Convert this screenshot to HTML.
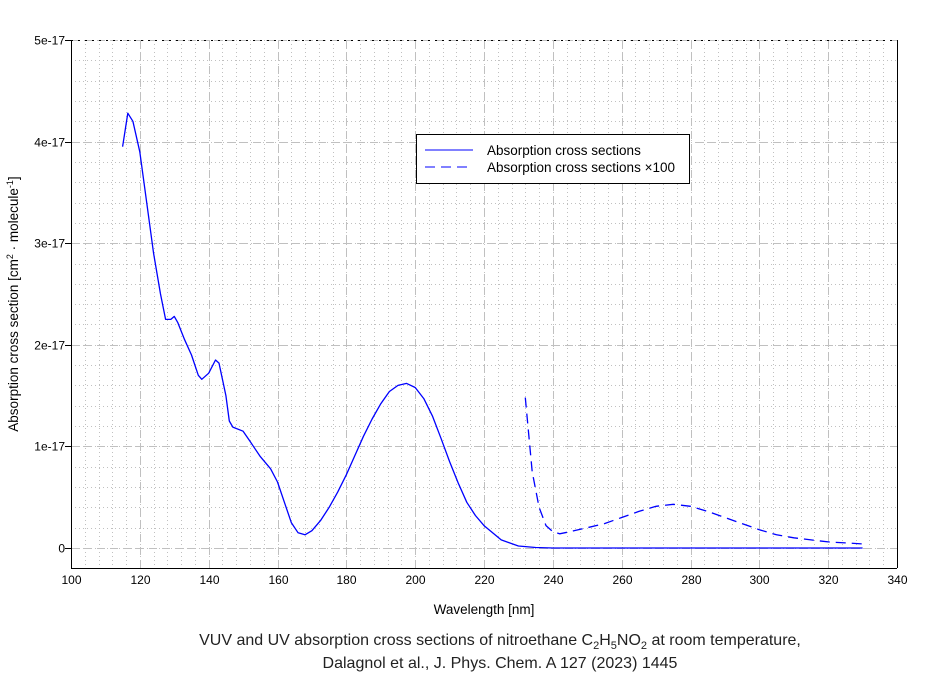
<!DOCTYPE html>
<html><head><meta charset="utf-8"><style>
body{margin:0;background:#fff;width:937px;height:676px;overflow:hidden;font-family:"Liberation Sans",Arial,sans-serif}
svg text{font-family:"Liberation Sans",Arial,sans-serif}
</style></head><body>
<svg id="chart" width="937" height="676" xmlns="http://www.w3.org/2000/svg">
<g id="grid"></g>
<g id="axes"></g>
<g id="series"></g>
<g>
<rect x="416.5" y="134.5" width="273" height="49" fill="#fff" stroke="#000"/>
<line x1="425" y1="150" x2="473" y2="150" stroke="#0000ff" stroke-width="1"/>
<text x="487" y="155" font-size="13.5">Absorption cross sections</text>
<line x1="425" y1="167" x2="473" y2="167" stroke="#0000ff" stroke-width="1" stroke-dasharray="10,6"/>
<text x="487" y="172" font-size="13.5">Absorption cross sections ×100</text>
</g>
<text x="484" y="614" font-size="13.5" text-anchor="middle">Wavelength [nm]</text>
<text transform="translate(18,304) rotate(-90)" font-size="13.5" text-anchor="middle">Absorption cross section [cm<tspan font-size="9" dy="-5">2</tspan><tspan dy="5"> · molecule</tspan><tspan font-size="9" dy="-5">-1</tspan><tspan dy="5">]</tspan></text>
<text x="500" y="645" font-size="16" text-anchor="middle" fill="#222">VUV and UV absorption cross sections of nitroethane C<tspan font-size="11" dy="4">2</tspan><tspan dy="-4">H</tspan><tspan font-size="11" dy="4">5</tspan><tspan dy="-4">NO</tspan><tspan font-size="11" dy="4">2</tspan><tspan dy="-4"> at room temperature,</tspan></text>
<text x="500" y="668" font-size="16" text-anchor="middle" fill="#222">Dalagnol et al., J. Phys. Chem. A 127 (2023) 1445</text>
</svg>
<script>
const wl = [115,116.5,118,120,122,124,126,127.5,129,130,131,133,135,137,138,140,142,143,145,146,147,150,152,155,158,160,162,164,166,168,170,172.5,175,177.5,180,182.5,185,187.5,190,192.5,195,197.5,200,202.5,205,207.5,210,212.5,215,217.5,220,225,230,235,240,260,280,300,320,330];
const xs = [3.95,4.28,4.2,3.9,3.4,2.9,2.5,2.25,2.25,2.28,2.22,2.05,1.9,1.7,1.66,1.72,1.85,1.82,1.5,1.25,1.19,1.15,1.05,0.9,0.78,0.65,0.45,0.25,0.15,0.13,0.17,0.27,0.4,0.55,0.72,0.91,1.1,1.27,1.42,1.54,1.6,1.62,1.58,1.47,1.3,1.08,0.85,0.64,0.45,0.32,0.22,0.08,0.02,0.005,0,0,0,0,0,0];
const wl100 = [232,234,236,238,240,242,245,250,255,260,265,270,275,280,285,290,295,300,305,310,315,320,325,330];
const xs100 = [1.48,0.75,0.4,0.22,0.16,0.14,0.16,0.2,0.24,0.3,0.36,0.41,0.43,0.41,0.36,0.3,0.24,0.18,0.13,0.1,0.08,0.06,0.05,0.04];
const xTicks = [100,120,140,160,180,200,220,240,260,280,300,320,340];
const yTicks = [0,1,2,3,4,5];
const yLabels = ["0","1e-17","2e-17","3e-17","4e-17","5e-17"];

const X0=71,X1=897,Y0=548,Yt=40,YB=568;
const xS = v => X0 + (v-100)/240*(X1-X0);
const yS = v => Y0 - v/5*(Y0-Yt);
const NS="http://www.w3.org/2000/svg";
function mk(tag,attrs,parent){const e=document.createElementNS(NS,tag);for(const k in attrs)e.setAttribute(k,attrs[k]);parent.appendChild(e);return e;}
const grid=document.getElementById('grid'),axes=document.getElementById('axes'),ser=document.getElementById('series');
for(let v=100;v<=340;v+=4){const x=Math.round(xS(v))+0.5;const l=mk('line',{x1:x,y1:Yt,x2:x,y2:YB,stroke:'#c0c0c0','stroke-dasharray':'1,3'},grid);

}
for(let v=-0.2;v<=5;v+=0.2){const y=Math.round(yS(v))+0.5;const l=mk('line',{x1:X0,y1:y,x2:X1,y2:y,stroke:'#c0c0c0','stroke-dasharray':'1,3'},grid);

}
xTicks.forEach(v=>{const x=Math.round(xS(v))+0.5;const l=mk('line',{x1:x,y1:Yt,x2:x,y2:YB,stroke:'#c0c0c0','stroke-dasharray':'8,5'},grid);


const t=mk('text',{x:x,y:YB+16,'font-size':12,'text-anchor':'middle'},axes);t.textContent=v;

});
yTicks.forEach((v,i)=>{const y=Math.round(yS(v))+0.5;const l=mk('line',{x1:X0,y1:y,x2:X1,y2:y,stroke:'#c0c0c0','stroke-dasharray':'8,5'},grid);


const tk=mk('line',{x1:X0-6,y1:y,x2:X0,y2:y,stroke:'#000'},axes);


const t=mk('text',{x:X0-6,y:y+4,'font-size':12,'text-anchor':'end'},axes);t.textContent=yLabels[i];

});
let f=mk('line',{x1:X0+0.5,y1:Yt,x2:X0+0.5,y2:YB,stroke:'#000'},axes);


f=mk('line',{x1:X0,y1:YB+0.5,x2:X1,y2:YB+0.5,stroke:'#000'},axes);


f=mk('line',{x1:X1+0.5,y1:Yt,x2:X1+0.5,y2:YB,stroke:'#000'},axes);


f=mk('line',{x1:X0,y1:Yt+0.5,x2:X1,y2:Yt+0.5,stroke:'#000','stroke-dasharray':'2,5'},axes);


const d1=wl.map((w,i)=>(i?'L':'M')+xS(w).toFixed(1)+','+yS(xs[i]).toFixed(1)).join('');
const p1=mk('path',{d:d1,fill:'none',stroke:'#0000ff','stroke-width':1.3,'stroke-linejoin':'round'},ser);


const d2=wl100.map((w,i)=>(i?'L':'M')+xS(w).toFixed(1)+','+yS(xs100[i]).toFixed(1)).join('');
const p2=mk('path',{d:d2,fill:'none',stroke:'#0000ff','stroke-width':1.3,'stroke-dasharray':'10,6'},ser);


</script>
</body></html>
